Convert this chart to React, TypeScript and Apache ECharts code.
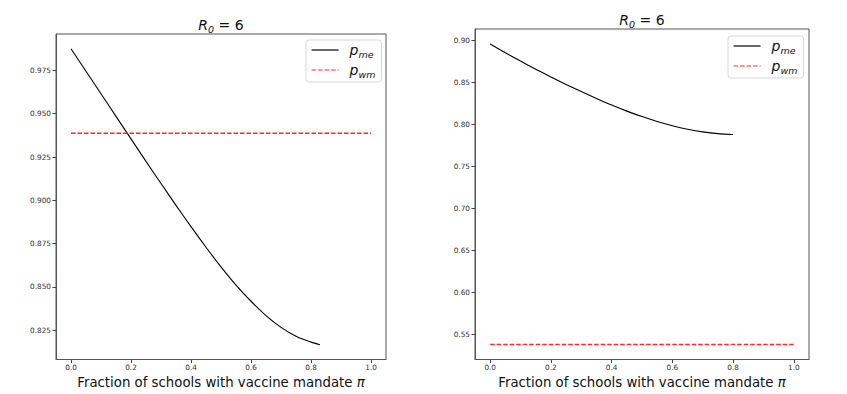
import React, { useEffect, useRef } from "react";
import * as echarts from "echarts";

// ---- data ----
const xTicks = [0, 0.2, 0.4, 0.6, 0.8, 1.0];

const xLeft = [0, 0.05, 0.1, 0.15, 0.2, 0.25, 0.3, 0.35, 0.4, 0.45, 0.5, 0.55, 0.6, 0.65, 0.7, 0.75, 0.8, 0.83];
const meLeft = [0.9875, 0.9745, 0.9615, 0.9485, 0.9355, 0.9225, 0.9097, 0.8971, 0.8848, 0.8729, 0.8615, 0.851, 0.8417, 0.8334, 0.8266, 0.8215, 0.8181, 0.8166];
const wmLeftX = [0, 1];
const wmLeftValue = 0.9387;
const yTicksLeft = [0.825, 0.85, 0.875, 0.9, 0.925, 0.95, 0.975];

const xRight = [0, 0.05, 0.1, 0.15, 0.2, 0.25, 0.3, 0.35, 0.4, 0.45, 0.5, 0.55, 0.6, 0.65, 0.7, 0.75, 0.8];
const meRight = [0.8955, 0.8852, 0.8752, 0.8656, 0.8563, 0.8474, 0.8389, 0.8307, 0.8229, 0.8157, 0.8092, 0.8034, 0.7984, 0.7942, 0.791, 0.7889, 0.7879];
const wmRightX = [0, 1];
const wmRightValue = 0.5382;
const yTicksRight = [0.55, 0.6, 0.65, 0.7, 0.75, 0.8, 0.85, 0.9];

const FONT = "DejaVu Sans";

function rangeWithMargin(vals: number[]) {
  const lo = Math.min(...vals);
  const hi = Math.max(...vals);
  const m = (hi - lo) * 0.05;
  return [lo - m, hi + m];
}

const richMath = {
  i: { fontFamily: FONT, fontStyle: "italic", fontWeight: "normal", fontSize: 14, lineHeight: 18, color: "#111" },
  s: { fontFamily: FONT, fontStyle: "italic", fontWeight: "normal", fontSize: 9.5, lineHeight: 10, verticalAlign: "bottom", color: "#111" },
  n: { fontFamily: FONT, fontWeight: "normal", fontSize: 14, lineHeight: 18, color: "#111" },
  sp: { width: 6, lineHeight: 18 },
};

export default function App() {
  const ref = useRef<HTMLDivElement>(null);
  useEffect(() => {
    if (!ref.current) return;
    const chart = echarts.init(ref.current, undefined, { renderer: "svg" });
    const [lMin, lMax] = rangeWithMargin([...meLeft, wmLeftValue]);
    const [rMin, rMax] = rangeWithMargin([...meRight, wmRightValue]);

    const xAxisBase = (gridIndex: number) => ({
      gridIndex,
      type: "value",
      min: -0.05,
      max: 1.05,
      splitLine: { show: false },
      axisLine: { show: true, onZero: false, lineStyle: { color: "#555", width: 1 } },
      axisTick: { show: true, customValues: xTicks, length: 3.5, lineStyle: { color: "#444" } },
      axisLabel: {
        customValues: xTicks,
        formatter: (v: number) => v.toFixed(1),
        fontFamily: FONT,
        fontSize: 7.3,
        color: "#333",
        margin: 4,
      },
      name: "{n|Fraction of schools with vaccine mandate }{i|π}",
      nameLocation: "middle",
      nameGap: 14,
      nameTextStyle: {
        rich: {
          n: { fontFamily: FONT, fontSize: 13.3, lineHeight: 18, color: "#111" },
          i: { fontFamily: FONT, fontStyle: "italic", fontSize: 13.3, lineHeight: 18, color: "#111" },
        },
      },
    });

    const yAxisBase = (gridIndex: number, min: number, max: number, ticks: number[], dec: number) => ({
      gridIndex,
      type: "value",
      min,
      max,
      splitLine: { show: false },
      axisLine: { show: true, onZero: false, lineStyle: { color: "#555", width: 1 } },
      axisTick: { show: true, customValues: ticks, length: 3.5, lineStyle: { color: "#444" } },
      axisLabel: {
        customValues: ticks,
        formatter: (v: number) => v.toFixed(dec),
        fontFamily: FONT,
        fontSize: 7.3,
        color: "#333",
        margin: 5,
      },
    });

    const legendBase = (left: number, top: number) => ({
      left,
      top,
      orient: "vertical",
      data: ["p_me", "p_wm"],
      itemWidth: 27,
      itemHeight: 12,
      itemGap: 4,
      itemStyle: { opacity: 0, color: "transparent", borderWidth: 0 },
      lineStyle: { width: 1.2 },
      padding: [3, 6, 3, 5],
      backgroundColor: "#fff",
      borderColor: "#d8d8d8",
      borderWidth: 1,
      borderRadius: 3,
      selectedMode: false,
      formatter: (name: string) => (name === "p_me" ? "{sp|}{i|p}{s|me}" : "{sp|}{i|p}{s|wm}"),
      textStyle: { rich: richMath },
    });

    const titleText = "{i|R}{s|0}{n| = 6}";

    chart.setOption({
      animation: false,
      backgroundColor: "#fff",
      title: [
        { text: titleText, left: 221, top: 16, textAlign: "center", padding: 0, textStyle: { fontWeight: "normal", rich: richMath } },
        { text: titleText, left: 642, top: 11, textAlign: "center", padding: 0, textStyle: { fontWeight: "normal", rich: richMath } },
      ],
      legend: [legendBase(306, 40), legendBase(728, 36)],
      grid: [
        { left: 56, top: 34, width: 330, height: 327, show: true, borderColor: "#555", borderWidth: 1, backgroundColor: "transparent" },
        { left: 475, top: 29, width: 334, height: 332, show: true, borderColor: "#555", borderWidth: 1, backgroundColor: "transparent" },
      ],
      xAxis: [xAxisBase(0), xAxisBase(1)],
      yAxis: [
        yAxisBase(0, lMin, lMax, yTicksLeft, 3),
        yAxisBase(1, rMin, rMax, yTicksRight, 2),
      ],
      series: [
        {
          name: "p_me",
          type: "line",
          xAxisIndex: 0,
          yAxisIndex: 0,
          data: xLeft.map((x, i) => [x, meLeft[i]]),
          showSymbol: false,
          symbol: "none",
          smooth: 0.3,
          lineStyle: { color: "#000", width: 1.1 },
          itemStyle: { color: "#000" },
        },
        {
          name: "p_wm",
          type: "line",
          xAxisIndex: 0,
          yAxisIndex: 0,
          data: wmLeftX.map((x) => [x, wmLeftValue]),
          showSymbol: false,
          symbol: "none",
          lineStyle: { color: "#ff2a2a", width: 1.5, type: [4.5, 2] },
          itemStyle: { color: "#ff2a2a" },
        },
        {
          name: "p_me",
          type: "line",
          xAxisIndex: 1,
          yAxisIndex: 1,
          data: xRight.map((x, i) => [x, meRight[i]]),
          showSymbol: false,
          symbol: "none",
          smooth: 0.3,
          lineStyle: { color: "#000", width: 1.1 },
          itemStyle: { color: "#000" },
        },
        {
          name: "p_wm",
          type: "line",
          xAxisIndex: 1,
          yAxisIndex: 1,
          data: wmRightX.map((x) => [x, wmRightValue]),
          showSymbol: false,
          symbol: "none",
          lineStyle: { color: "#ff2a2a", width: 1.5, type: [4.5, 2] },
          itemStyle: { color: "#ff2a2a" },
        },
      ],
    });
    return () => chart.dispose();
  }, []);
  return (
    <div
      ref={ref}
      style={{ position: "fixed", left: 0, top: 0, width: 847, height: 394, background: "#fff" }}
    />
  );
}
